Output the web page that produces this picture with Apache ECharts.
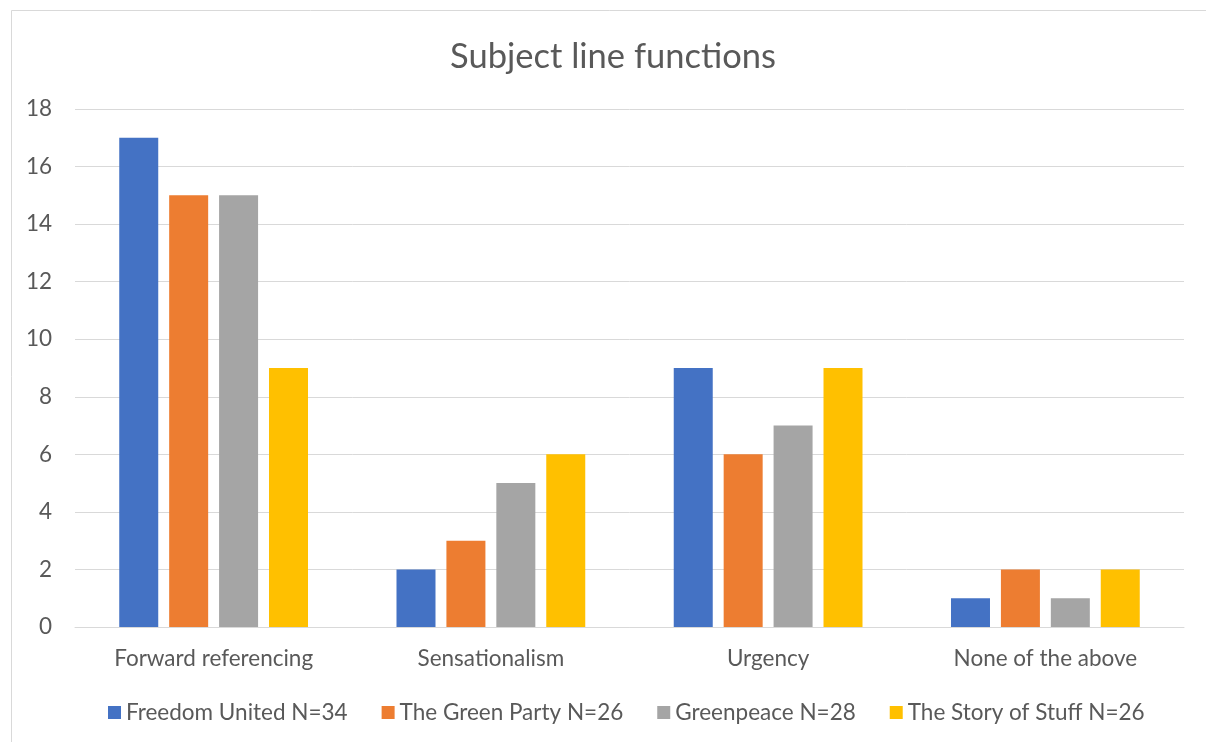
<!DOCTYPE html>
<html>
<head>
<meta charset="utf-8">
<script src="https://cdn.jsdelivr.net/npm/echarts@6/dist/echarts.min.js"></script>
<style>html,body{margin:0;padding:0;background:#fff;}#c{width:1206px;height:742px;}</style>
</head>
<body>
<div id="c"></div>
<script>
const categories = ["Forward referencing", "Sensationalism", "Urgency", "None of the above"];
const seriesNames = ["Freedom United N=34", "The Green Party N=26", "Greenpeace N=28", "The Story of Stuff N=26"];
const freedomUnited = [17, 2, 9, 1];
const greenParty = [15, 3, 6, 2];
const greenpeace = [15, 5, 7, 1];
const storyOfStuff = [9, 6, 9, 2];
const colors = ["#4472C4", "#ED7D31", "#A5A5A5", "#FFC000"];
const yTicks = [0, 2, 4, 6, 8, 10, 12, 14, 16, 18];

const values = [freedomUnited, greenParty, greenpeace, storyOfStuff];
const font = "Lato, Liberation Sans, sans-serif";
const chart = echarts.init(document.getElementById('c'));
chart.setOption({
  animation: false,
  backgroundColor: '#fff',
  graphic: [{
    type: 'rect', shape: {x: 11.5, y: 10.5, width: 1200, height: 740},
    style: {fill: 'none', stroke: '#D9D9D9', lineWidth: 1}, silent: true, z: -1
  }],
  title: {
    text: 'Subject line functions', left: 608, top: 34, textAlign: 'center',
    textStyle: {fontFamily: font, fontSize: 34.5, fontWeight: 'normal', color: '#595959'}
  },
  legend: {
    data: seriesNames, left: 103, top: 696, itemWidth: 13, itemHeight: 13, itemGap: 34,
    icon: 'rect',
    textStyle: {fontFamily: font, fontSize: 22.5, color: '#595959'}
  },
  grid: {left: 75, right: 22, top: 109, bottom: 115, containLabel: false},
  xAxis: {
    type: 'category', data: categories,
    axisLine: {lineStyle: {color: '#D9D9D9', width: 1}},
    axisTick: {show: false},
    axisLabel: {fontFamily: font, fontSize: 22.5, color: '#595959', margin: 20}
  },
  yAxis: {
    type: 'value', min: 0, max: 18, interval: 2,
    axisLine: {show: false}, axisTick: {show: false},
    splitLine: {lineStyle: {color: '#D9D9D9', width: 1}},
    axisLabel: {fontFamily: font, fontSize: 22.5, color: '#595959', margin: 23,
      formatter: v => yTicks.includes(v) ? String(v) : ''}
  },
  series: seriesNames.map((name, i) => ({
    name, type: 'bar', data: values[i], barWidth: 39, barGap: '28%',
    itemStyle: {color: colors[i]}
  }))
});
</script>
</body>
</html>
